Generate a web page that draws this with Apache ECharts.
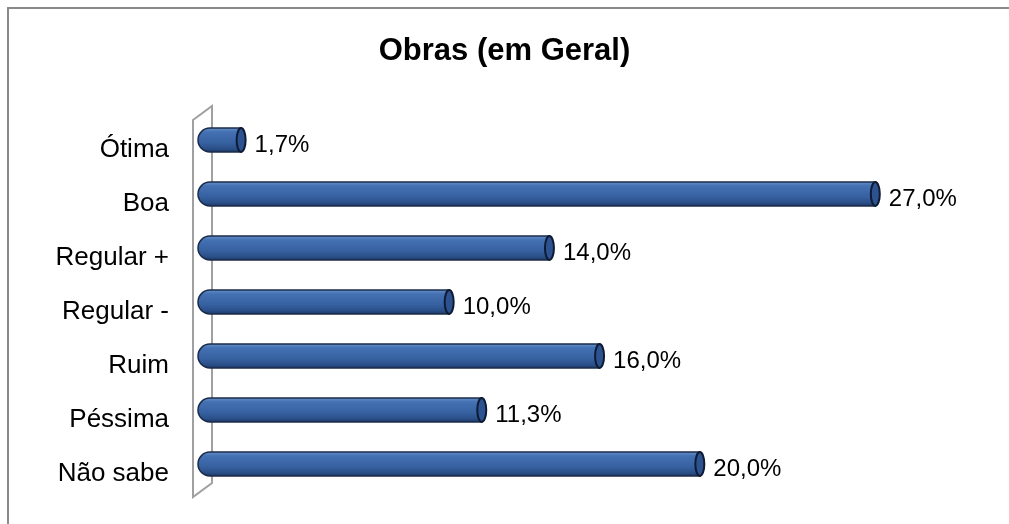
<!DOCTYPE html>
<html>
<head>
<meta charset="utf-8">
<script src="https://cdn.jsdelivr.net/npm/echarts@6/dist/echarts.min.js"></script>
<style>
  html, body { margin: 0; padding: 0; background: #fff; }
  #main { width: 1009px; height: 524px; }
</style>
</head>
<body>
<div id="main"></div>
<script>
// 資料
const categories = ['Ótima', 'Boa', 'Regular +', 'Regular -', 'Ruim', 'Péssima', 'Não sabe'];
const values = [1.7, 27.0, 14.0, 10.0, 16.0, 11.3, 20.0];
const xTicks = [0, 30];

const chart = echarts.init(document.getElementById('main'));

const fmt = v => v.toFixed(1).replace('.', ',') + '%';

// 圓柱狀橫條
function renderBar(params, api) {
  const idx = api.value(1);
  const val = api.value(0);
  const start = api.coord([0, idx]);
  const end = api.coord([val, idx]);
  const h = api.size([0, 1])[1] * 0.44;
  const y = start[1] - h / 2;
  const rx = 4.5;
  const left = start[0] - 5;
  const right = end[0] - rx;
  return {
    type: 'group',
    children: [
      {
        type: 'rect',
        shape: { x: left, y: y, width: right - left, height: h, r: [h / 2, 0, 0, h / 2] },
        style: {
          fill: new echarts.graphic.LinearGradient(0, 0, 0, 1, [
            { offset: 0, color: '#6a94cf' },
            { offset: 0.18, color: '#4471b3' },
            { offset: 0.6, color: '#3761a1' },
            { offset: 0.85, color: '#2a4f88' },
            { offset: 1, color: '#1a3361' }
          ]),
          stroke: '#1b2c4a',
          lineWidth: 1.5
        }
      },
      {
        type: 'ellipse',
        shape: { cx: right, cy: start[1], rx: rx, ry: h / 2 },
        style: { fill: '#2d5290', stroke: '#0e1b33', lineWidth: 2 }
      },
      {
        type: 'text',
        style: {
          text: fmt(val),
          x: end[0] + 9,
          y: start[1] + 5,
          verticalAlign: 'middle',
          align: 'left',
          fontFamily: 'Liberation Sans',
          fontSize: 24,
          fill: '#000'
        }
      }
    ]
  };
}

const option = {
  animation: false,
  title: {
    text: 'Obras (em Geral)',
    left: 'center',
    top: 31,
    textStyle: { fontFamily: 'Liberation Sans', fontSize: 31, fontWeight: 'bold', color: '#000' }
  },
  grid: { left: 203, right: 54, top: 113, bottom: 33 },
  xAxis: {
    type: 'value',
    min: xTicks[0],
    max: xTicks[1],
    show: false
  },
  yAxis: {
    type: 'category',
    data: categories,
    inverse: true,
    axisLine: { show: false },
    axisTick: { show: false },
    axisLabel: {
      fontFamily: 'Liberation Sans', fontSize: 26, color: '#000', margin: 34,
      verticalAlign: 'top', lineHeight: 20
    }
  },
  series: [{
    type: 'custom',
    renderItem: renderBar,
    encode: { x: 0, y: 1 },
    data: values.map((v, i) => [v, i]),
    z: 5
  }]
};

chart.setOption(option);

// 左側 3D 牆面與外框
const first = chart.convertToPixel({ gridIndex: 0 }, [0, 0]);
const last = chart.convertToPixel({ gridIndex: 0 }, [0, categories.length - 1]);
const band = (last[1] - first[1]) / (categories.length - 1);
const bx = first[0] - 10, fx = first[0] + 9;
const wallTop = first[1] - band / 2, wallBot = last[1] + band / 2;
chart.setOption({
  graphic: [
    {
      type: 'polyline',
      shape: { points: [[8, 524], [8, 8], [1009, 8]] },
      style: { stroke: '#8a8a8a', lineWidth: 2, fill: null }
    },
    {
      type: 'polygon',
      z: 1,
      shape: { points: [[bx, wallTop + 7], [fx, wallTop - 7], [fx, wallBot - 8], [bx, wallBot + 6]] },
      style: { stroke: '#a0a0a0', lineWidth: 2, fill: '#fff' }
    }
  ]
});
</script>
</body>
</html>
